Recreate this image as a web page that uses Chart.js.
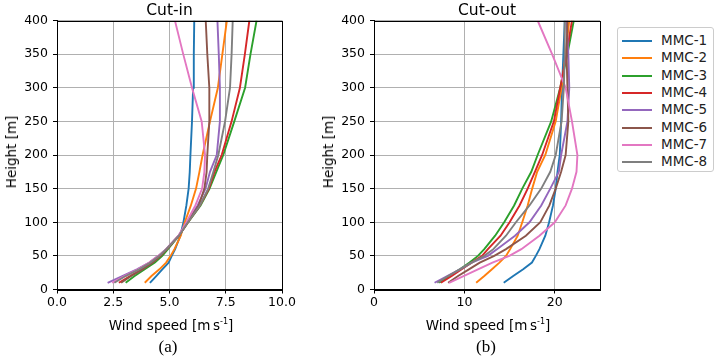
<!DOCTYPE html>
<html>
<head>
<meta charset="utf-8">
<script src="https://cdn.jsdelivr.net/npm/chart.js@4/dist/chart.umd.min.js"></script>
<style>
  body { margin: 0; background: #fff; width: 716px; height: 358px; position: relative; overflow: hidden;
         font-family: "DejaVu Sans", sans-serif; color: #000; }
  canvas { position: absolute; top: 0; }
  .t { position: absolute; white-space: nowrap; transform: translate(-50%, -50%); }
  .title { font-size: 15.5px; }
  .axt { font-size: 13.5px; }
  .yt { font-size: 13.5px; transform: translate(-50%, -50%) rotate(-90deg); }
  .cap { font-family: "Liberation Serif", "DejaVu Serif", serif; font-size: 17px; }
  sup { font-size: 8px; vertical-align: 6px; }
  #legend { position: absolute; left: 617px; top: 27px; width: 95px; height: 143px;
            border: 1px solid #ccc; border-radius: 3px; background: #fff; }
  .row { position: absolute; left: 0; height: 17px; font-size: 13.5px; }
  .row i { position: absolute; left: 4px; top: 8px; width: 30px; height: 2px; }
  .row span { position: absolute; left: 43px; top: 0; line-height: 17px; color: #222; }
</style>
</head>
<body>
<canvas id="cutIn" width="300" height="358" style="left:0"></canvas>
<canvas id="cutOut" width="320" height="358" style="left:300px"></canvas>

<div class="t title" style="left:169.5px; top:10px">Cut-in</div>
<div class="t title" style="left:487px; top:10px">Cut-out</div>
<div class="t axt" style="left:171px; top:325px">Wind speed [m&#8201;s<sup>-1</sup>]</div>
<div class="t axt" style="left:488px; top:325px">Wind speed [m&#8201;s<sup>-1</sup>]</div>
<div class="t yt" style="left:11px; top:152px">Height [m]</div>
<div class="t yt" style="left:328px; top:152px">Height [m]</div>
<div class="t cap" style="left:168px; top:347px">(a)</div>
<div class="t cap" style="left:486px; top:347px">(b)</div>
<div id="legend"></div>

<script>
const heights = [10, 20, 30, 40, 50, 60, 80, 100, 125, 150, 175, 200, 250, 300, 350, 400];
const names = ['MMC-1', 'MMC-2', 'MMC-3', 'MMC-4', 'MMC-5', 'MMC-6', 'MMC-7', 'MMC-8'];
const colors = ['#1f77b4', '#ff7f0e', '#2ca02c', '#d62728', '#9467bd', '#8c564b', '#e377c2', '#7f7f7f'];

// cut-in wind speed profiles [m/s]
const ciMMC1 = [4.13, 4.41, 4.68, 4.96, 5.1, 5.25, 5.48, 5.62, 5.75, 5.85, 5.9, 5.93, 6.0, 6.05, 6.08, 6.1];
const ciMMC2 = [3.9, 4.2, 4.55, 4.85, 5.05, 5.22, 5.5, 5.68, 5.95, 6.18, 6.33, 6.47, 6.8, 7.15, 7.35, 7.55];
const ciMMC3 = [3.05, 3.45, 3.9, 4.35, 4.68, 4.93, 5.42, 5.83, 6.38, 6.78, 7.08, 7.39, 7.88, 8.36, 8.6, 8.87];
const ciMMC4 = [2.75, 3.25, 3.75, 4.25, 4.6, 4.88, 5.42, 5.82, 6.35, 6.75, 7.0, 7.32, 7.76, 8.13, 8.35, 8.55];
const ciMMC5 = [2.25, 2.9, 3.55, 4.1, 4.5, 4.85, 5.4, 5.78, 6.25, 6.6, 6.8, 7.1, 7.24, 7.24, 7.19, 7.13];
const ciMMC6 = [2.85, 3.3, 3.8, 4.25, 4.6, 4.87, 5.42, 5.8, 6.3, 6.55, 6.65, 6.68, 6.77, 6.77, 6.68, 6.61];
const ciMMC7 = [2.45, 3.0, 3.6, 4.1, 4.5, 4.85, 5.4, 5.75, 6.15, 6.45, 6.55, 6.58, 6.43, 6.0, 5.61, 5.24];
const ciMMC8 = [2.55, 3.05, 3.65, 4.15, 4.55, 4.86, 5.42, 5.82, 6.35, 6.72, 6.95, 7.17, 7.47, 7.69, 7.76, 7.81];

// cut-out wind speed profiles [m/s]
const coMMC1 = [14.35, 15.4, 16.5, 17.47, 17.9, 18.3, 18.95, 19.37, 19.8, 20.1, 20.3, 20.55, 20.7, 20.8, 20.95, 21.1];
const coMMC2 = [11.3, 12.2, 13.05, 13.87, 14.6, 15.05, 15.9, 16.4, 17.0, 17.5, 18.05, 18.95, 20.1, 20.75, 21.2, 21.6];
const coMMC3 = [7.2, 8.3, 9.5, 10.57, 11.5, 12.2, 13.4, 14.4, 15.5, 16.4, 17.4, 18.1, 19.6, 20.6, 21.4, 22.1];
const coMMC4 = [7.4, 8.6, 9.7, 10.8, 11.96, 12.6, 14.0, 15.0, 16.1, 17.0, 17.8, 18.6, 19.9, 20.6, 21.3, 21.9];
const coMMC5 = [6.7, 8.1, 9.5, 10.8, 12.6, 13.6, 15.6, 17.2, 18.5, 19.5, 20.45, 20.7, 21.4, 21.6, 21.5, 21.3];
const coMMC6 = [8.2, 9.3, 10.5, 11.7, 13.3, 14.6, 16.8, 18.4, 19.4, 20.1, 20.7, 21.2, 21.5, 21.4, 21.3, 21.4];
const coMMC7 = [8.3, 9.9, 11.5, 13.1, 14.97, 16.3, 18.3, 20.0, 21.2, 21.9, 22.4, 22.5, 21.9, 21.2, 19.7, 18.1];
const coMMC8 = [7.0, 8.2, 9.5, 10.8, 12.2, 13.2, 14.6, 15.7, 17.2, 18.5, 19.5, 20.1, 20.75, 21.0, 21.1, 21.1];

const yTicks = [0, 50, 100, 150, 200, 250, 300, 350, 400];
const xTicksIn = [0, 2.5, 5, 7.5, 10];
const xTicksOut = [0, 10, 20];

const cutInSeries = [ciMMC1, ciMMC2, ciMMC3, ciMMC4, ciMMC5, ciMMC6, ciMMC7, ciMMC8];
const cutOutSeries = [coMMC1, coMMC2, coMMC3, coMMC4, coMMC5, coMMC6, coMMC7, coMMC8];

// box around the plot area (matplotlib spines)
const frame = {
  id: 'frame',
  afterDraw(chart) {
    const { ctx, chartArea: a } = chart;
    ctx.save();
    ctx.strokeStyle = '#000';
    ctx.lineWidth = 1;
    ctx.strokeRect(Math.round(a.left) + 0.5, Math.round(a.top) + 0.5,
                   Math.round(a.right - a.left), Math.round(a.bottom - a.top));
    ctx.restore();
  }
};

const tickFont = { family: 'DejaVu Sans', size: 12.5 };

function makeChart(id, series, xMax, xTicks, fmt, yWidth, padRight) {
  return new Chart(document.getElementById(id), {
    type: 'line',
    data: {
      datasets: series.map((vals, i) => ({
        label: names[i],
        data: vals.map((v, k) => ({ x: v, y: heights[k] })),
        borderColor: colors[i],
        borderWidth: 1.9,
        pointRadius: 0,
        fill: false,
        order: series.length - i
      }))
    },
    options: {
      responsive: false,
      animation: false,
      devicePixelRatio: 1,
      layout: { padding: { top: 20.5, right: padRight, left: 0, bottom: 0 } },
      plugins: { legend: { display: false }, tooltip: { enabled: false } },
      scales: {
        x: {
          type: 'linear', min: 0, max: xMax,
          afterBuildTicks: s => { s.ticks = xTicks.map(v => ({ value: v })); },
          afterFit: s => { s.height = 68.5; },
          ticks: { callback: v => fmt(v), color: '#000', font: tickFont, padding: 2, maxRotation: 0 },
          grid: { color: '#b0b0b0', lineWidth: 1, tickColor: '#000', tickLength: 4 },
          border: { display: true, color: '#000', width: 1 }
        },
        y: {
          type: 'linear', min: 0, max: 400,
          afterBuildTicks: s => { s.ticks = yTicks.map(v => ({ value: v })); },
          afterFit: s => { s.width = yWidth; },
          ticks: { color: '#000', font: tickFont, padding: 5 },
          grid: { color: '#b0b0b0', lineWidth: 1, tickColor: '#000', tickLength: 4 },
          border: { display: true, color: '#000', width: 1 }
        }
      }
    },
    plugins: [frame]
  });
}

makeChart('cutIn', cutInSeries, 10, xTicksIn, v => v.toFixed(1), 57, 18);
makeChart('cutOut', cutOutSeries, 25, xTicksOut, v => String(v), 74, 20);

// legend
const legend = document.getElementById('legend');
names.forEach((n, i) => {
  const row = document.createElement('div');
  row.className = 'row';
  row.style.top = (4 + i * 17.3) + 'px';
  row.style.width = '95px';
  row.innerHTML = '<i style="background:' + colors[i] + '"></i><span>' + n + '</span>';
  legend.appendChild(row);
});
</script>
</body>
</html>
